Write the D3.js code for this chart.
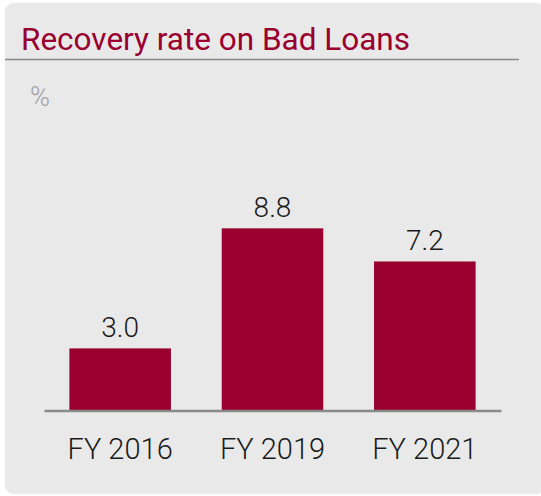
<!DOCTYPE html>
<html>
<head>
<meta charset="utf-8">
<script src="https://cdn.jsdelivr.net/npm/d3@7"></script>
<style>
html,body{margin:0;padding:0;background:#fff;}
svg{display:block;}
</style>
</head>
<body>
<svg id="chart" width="541" height="496"></svg>
<script>
const categories = ["FY 2016", "FY 2019", "FY 2021"];
const values = [3.0, 8.8, 7.2];
const valueLabels = ["3.0", "8.8", "7.2"];
const title = "Recovery rate on Bad Loans";
const unitLabel = "%";

const svg = d3.select("#chart");
const W = 541, H = 496;
const red = "#99002f";

// panel
svg.append("rect").attr("x", 5).attr("y", 3).attr("width", 540).attr("height", 491)
  .attr("rx", 9).attr("fill", "#e9e9e9").attr("stroke", "#f0f0f0");

svg.append("text").attr("x", 21).attr("y", 50).text(title)
  .attr("font-family", "Roboto").attr("font-size", 31.5).attr("fill", red);
svg.append("line").attr("x1", 5).attr("x2", 519).attr("y1", 59.5).attr("y2", 59.5)
  .attr("stroke", "#8a8a8a").attr("stroke-width", 1.5);

svg.append("text").attr("x", 30).attr("y", 106).text(unitLabel)
  .attr("font-family", "Roboto").attr("font-weight", 300).attr("font-size", 27).attr("fill", "#a0a0a0");

const baseY = 410.5;
const x = d3.scaleBand().domain(categories).range([44, 501]).paddingInner(1/3).paddingOuter(1/6);
const y = d3.scaleLinear().domain([0, 10]).range([baseY, baseY - 207]);

svg.selectAll("rect.bar").data(values).join("rect").attr("class", "bar")
  .attr("x", (d, i) => x(categories[i])).attr("width", x.bandwidth())
  .attr("y", d => y(d)).attr("height", d => y(0) - y(d))
  .attr("fill", red);

svg.selectAll("text.val").data(values).join("text").attr("class", "val")
  .attr("x", (d, i) => x(categories[i]) + x.bandwidth() / 2)
  .attr("y", d => y(d) - 11.5)
  .attr("text-anchor", "middle").attr("font-family", "Roboto").attr("font-weight", 300)
  .attr("font-size", 28).attr("fill", "#1a1a1a")
  .text((d, i) => valueLabels[i]);

const axis = d3.axisBottom(x).tickSize(0).tickPadding(0);
const g = svg.append("g").attr("transform", `translate(0,${baseY})`).call(axis);
g.select(".domain").attr("stroke", "#8a8a8a").attr("stroke-width", 2.5);
g.selectAll(".tick text").attr("font-family", "Roboto").attr("font-weight", 300)
  .attr("font-size", 29).attr("fill", "#1a1a1a").attr("dy", 0).attr("y", 48);
</script>
</body>
</html>
